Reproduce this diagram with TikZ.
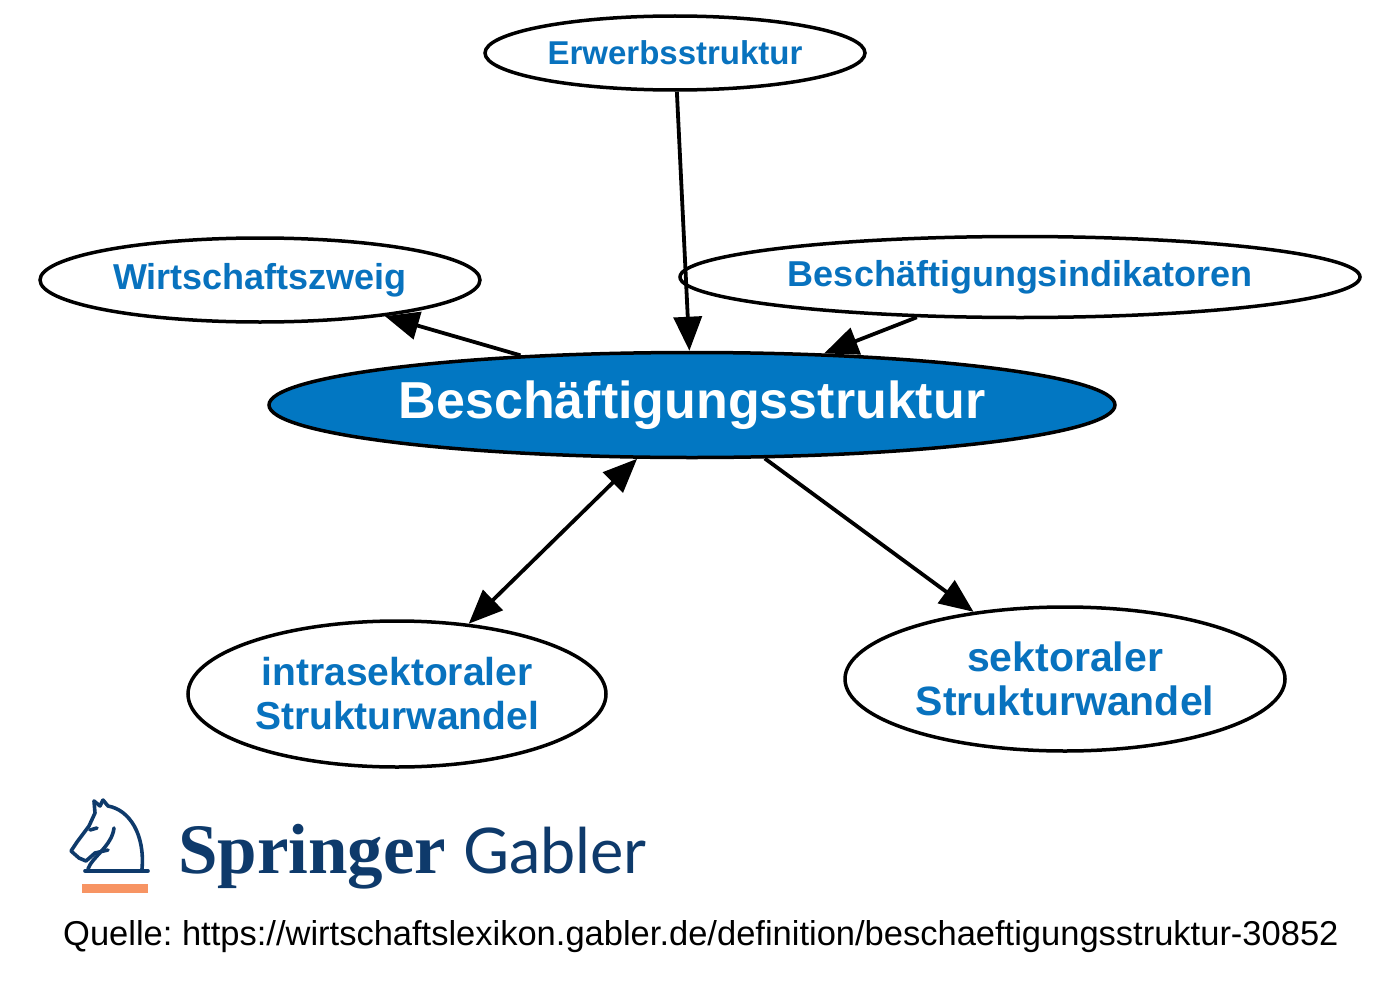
\documentclass[tikz,border=0pt]{standalone}
\usepackage{fontspec}
\setmainfont{Liberation Sans}
\newfontfamily\logoserif{Liberation Serif}
\newfontfamily\logosans{Lato}
\usetikzlibrary{shapes.geometric,arrows.meta}
\definecolor{nodeblue}{RGB}{2,119,194}
\definecolor{textblue}{RGB}{8,114,190}
\definecolor{navy}{RGB}{14,58,107}
\definecolor{logoorange}{RGB}{247,148,99}
\tikzset{
  ell/.style={ellipse, draw=black, line width=3.5pt, fill=white, inner sep=0pt,
    text=textblue, font=\bfseries, align=center},
  conn/.style={line width=3.8pt, -{Triangle[length=34pt,width=28pt]}},
  bconn/.style={line width=3.8pt, {Triangle[length=34pt,width=28pt]}-{Triangle[length=34pt,width=28pt]}},
  horse/.style={draw=navy, line width=3.6pt, line cap=round, line join=round},
}
\begin{document}
\frenchspacing
\begin{tikzpicture}[x=1pt,y=-1pt]
\useasboundingbox (0,0) rectangle (1400,998);
\fill[white] (0,0) rectangle (1400,998);
% nodes
\node[ell, minimum width=380pt, minimum height=74pt, font=\bfseries\fontsize{33}{38}\selectfont] (erw) at (675,53) {Erwerbsstruktur};
\node[ell, minimum width=440pt, minimum height=84pt, font=\bfseries\fontsize{36}{40}\selectfont] (wirt) at (260,280) {Wirtschaftszweig};
\node[ell, minimum width=680pt, minimum height=81pt, font=\bfseries\fontsize{36}{40}\selectfont] (ind) at (1020,277) {Beschäftigungsindikatoren};
\node[ell, fill=nodeblue, text=white, minimum width=846pt, minimum height=105pt, font=\bfseries\fontsize{52}{56}\selectfont] (bs) at (692,405) {Beschäftigungsstruktur};
\node[ell, minimum width=418pt, minimum height=146pt, font=\bfseries\fontsize{39}{44}\selectfont] (intra) at (397,694) {intrasektoraler\\Strukturwandel};
\node[ell, minimum width=440pt, minimum height=144pt, font=\bfseries\fontsize{41}{44}\selectfont] (sekt) at (1065,679) {sektoraler\\Strukturwandel};
% connectors
\draw[conn] (erw) -- (bs);
\draw[conn] (bs) -- (wirt);
\draw[conn] (ind) -- (bs);
\draw[bconn] (bs) -- (intra);
\draw[conn] (bs) -- (sekt);
% logo
\draw[horse] (85,871) -- (148,871);
\draw[horse] (103,800) -- (108,806) .. controls (130,810) and (145,835) .. (142,869);
\draw[horse] (88,869) .. controls (92,857) and (112,846) .. (114,828);
\draw[horse] (94,801) -- (95,813) -- (89,826) -- (77,842) -- (71,851) -- (79,858) -- (86,861) -- (95,853) -- (108,850);
\draw[horse] (94,801) -- (100,806) -- (103,800);
\draw[horse] (90,830) -- (97,828);
\fill[logoorange] (82,884) rectangle (148,893);
\node[anchor=base west, inner sep=0pt, text=navy, font=\logoserif\bfseries\fontsize{71}{76}\selectfont] (spr) at (178,873) {Springer};
\node[anchor=base west, inner sep=0pt, text=navy, font=\logosans\fontsize{63}{70}\selectfont] (gab) at (463,873) {Gabler};
% source
\node[anchor=base west, inner sep=0pt, font=\fontsize{34.5}{38}\selectfont] (src) at (63,945) {Quelle: https://wirtschaftslexikon.gabler.de/definition/beschaeftigungsstruktur-30852};
\end{tikzpicture}
\end{document}
